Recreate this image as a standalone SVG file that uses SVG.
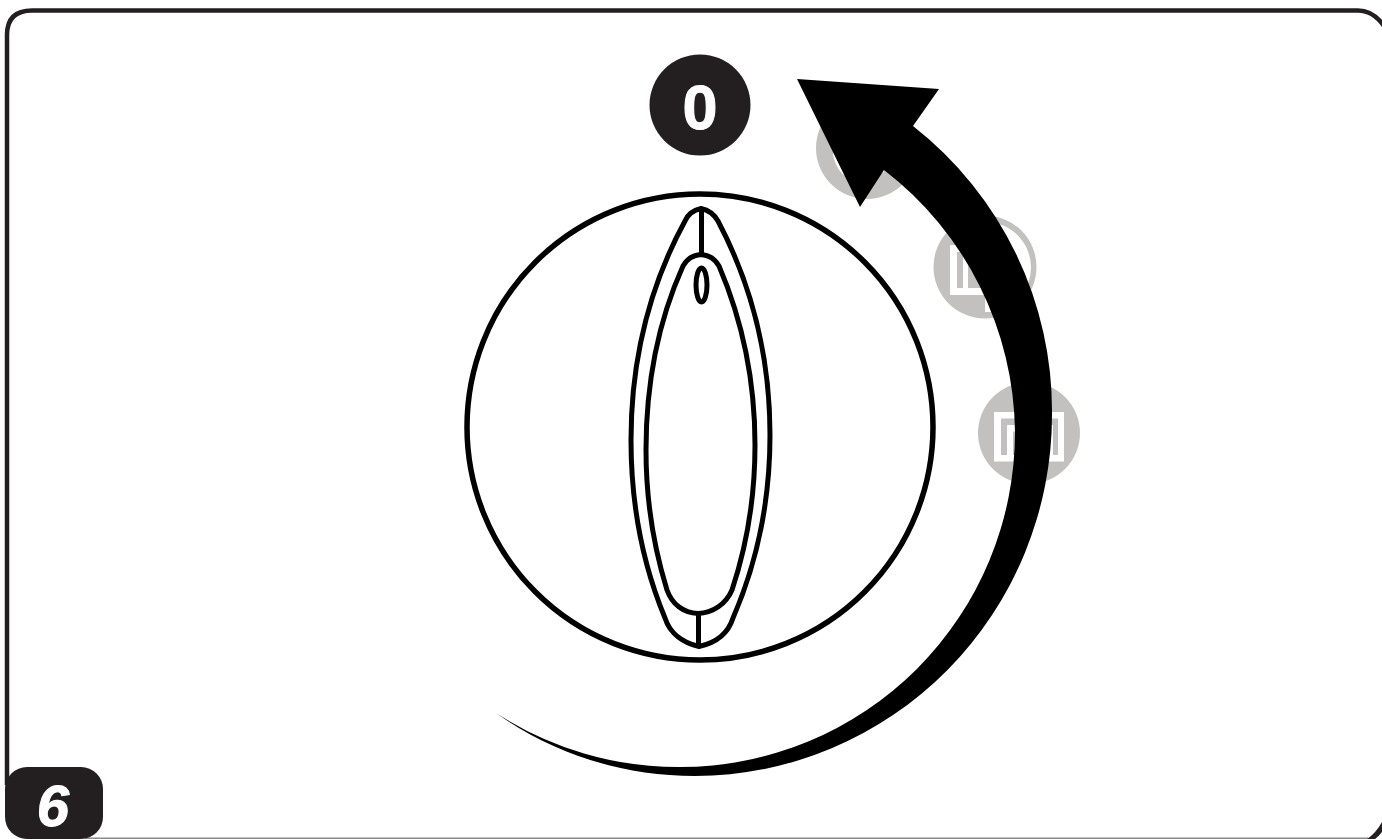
<svg xmlns="http://www.w3.org/2000/svg" width="1382" height="839" viewBox="0 0 1382 839">
<style>
.k{fill:none;stroke:#000;stroke-width:5.500}
.kt{fill:none;stroke:#000;stroke-width:5}
.ic{fill:#c2c1bf}
.w{fill:#fff}
.d{fill:#231f20}
.t{font-family:"Liberation Sans",Arial,sans-serif;font-weight:700;fill:#fff;stroke:#fff;stroke-width:1;text-anchor:middle}
</style>
<rect width="1382" height="839" fill="#fff"/>
<g id="frame">
<path d="M7 785V35Q7 10.500 32 10.500H1358Q1373 10.500 1384 26" fill="none" stroke="#231f20" stroke-width="4.500"/>
<path d="M85 838.200H1368" fill="none" stroke="#8a8a8a" stroke-width="1.500"/>
<path d="M1367 839Q1376 833 1382 822V832Q1379 836 1375 839Z" class="d"/>
</g>
<g id="icon-1">
<circle class="ic" cx="867" cy="148" r="51"/>
<path class="w" d="M833 135V155Q836 171 848 178Q862 184 884 172L880 135Z"/>
</g>
<g id="icon-2">
<circle class="ic" cx="985" cy="267" r="51.500"/>
<path class="w" d="M985 222A45.500 45.500 0 0 1 1031 267Q1031 285 1018 300L985 260Z"/>
<rect class="w" x="950" y="245" width="45" height="50"/>
<rect class="ic" x="957" y="252" width="6" height="36"/>
<path class="ic" d="M968 260H990V288H968Z"/>
<rect class="w" x="985" y="295" width="10" height="17"/>
</g>
<g id="icon-3">
<circle class="ic" cx="1029" cy="433" r="51"/>
<rect class="w" x="994" y="412" width="70" height="49.500"/>
<path class="ic" d="M1001 418.500H1058V455H1053V425H1007V455H1001Z"/>
<rect class="ic" x="1013" y="431.500" width="35" height="23.500"/>
</g>
<g id="knob">
<circle class="k" cx="700" cy="427" r="233"/>
<path class="kt" d="M701 208.500C694 210 688 214 685 221C654 278 631 350 631 440C631 505 643 565 665 618C670 634 684 643 699 646.500C715 643 728 634 733 618C756 565 770 505 770 435C770 350 748 278 718 221C714 214 708 210 701 208.500Z"/>
<path class="kt" d="M701 254.500C693 255 687 259 683 266C661 315 646 375 646 450C646 500 654 548 667 590C672 604 683 613 698 613.500C713 613 726 604 732 590C746 548 755 500 755 445C755 375 740 315 719 266C715 259 709 255 701 254.500Z"/>
<ellipse class="kt" cx="701.500" cy="285" rx="5.500" ry="17"/>
<path class="kt" d="M701.500 208V254M698.500 613V646"/>
</g>
<g id="connectors">
<path id="arrow" fill="#000" d="M797 79L939 89L913 126A362 362 0 0 1 1052 415A358 361 0 0 1 695 776C620 776 550 752 496 713A335 335 0 0 0 680 767A335 335 0 0 0 1015 432A335 335 0 0 0 884 170L860 207Z"/>
</g>
<g id="node-0">
<circle class="d" cx="700" cy="105" r="50.500"/>
<text class="t" x="700" y="129" font-size="63">0</text>
</g>
<g id="badge-6">
<rect class="d" x="5" y="767" width="98" height="72" rx="22"/>
<text class="t" x="53" y="826" font-size="58" font-style="italic">6</text>
</g>
</svg>
